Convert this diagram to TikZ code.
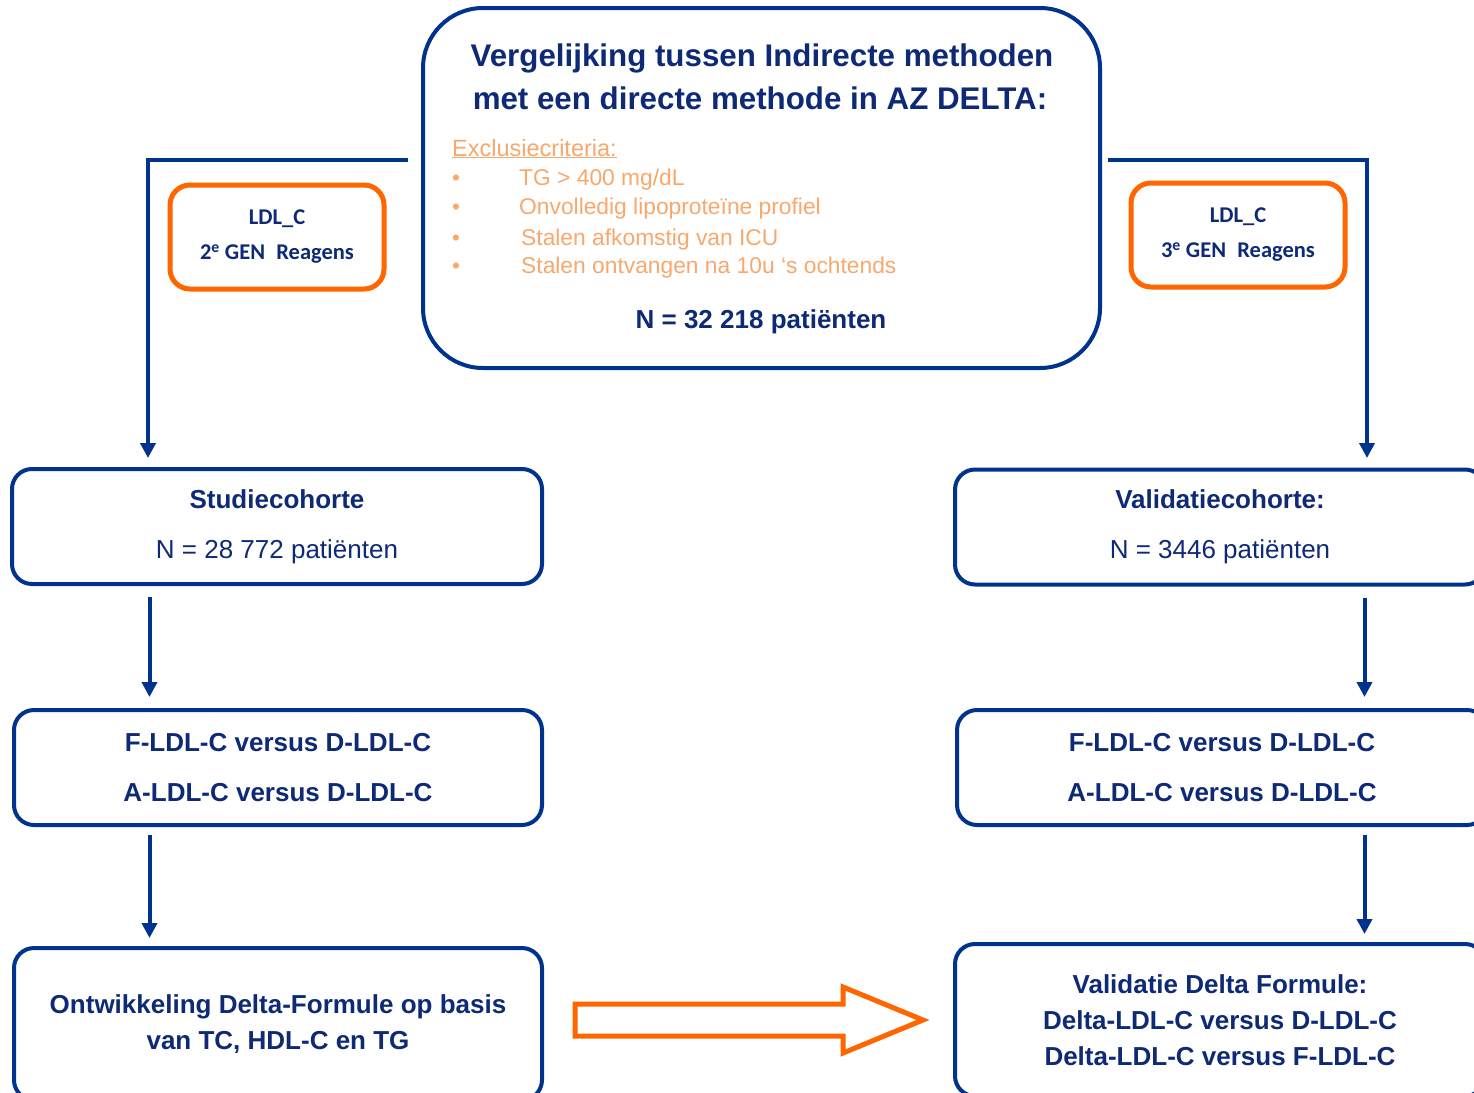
\documentclass[tikz,border=0pt]{standalone}
\usepackage{fontspec}
\setmainfont{Liberation Sans}
\newfontfamily\calfont{Carlito}
\usetikzlibrary{arrows.meta}
\definecolor{navy}{RGB}{0,51,141}
\definecolor{navytext}{RGB}{14,42,118}
\definecolor{orng}{RGB}{255,102,0}
\definecolor{lightorng}{RGB}{248,168,108}

\begin{document}
\begin{tikzpicture}[x=1pt,y=-1pt,
  bluebox/.style={draw=navy, line width=4pt, rounded corners=20pt,
    minimum width=530pt, minimum height=115pt, align=center,
    text=navytext, inner sep=0pt},
  orangebox/.style={draw=orng, line width=5pt, rounded corners=20pt,
    minimum width=214pt, minimum height=104pt, align=center,
    text=navytext, font=\calfont\bfseries\fontsize{22.5}{35}\selectfont},
  flow/.style={draw=navy, line width=4pt,
    -{Triangle[length=15pt,width=15pt]}},
  crit/.style={anchor=base west, text=lightorng,
    font=\fontsize{22.8}{27}\selectfont, inner sep=0pt},
  dot/.style={anchor=base, text=lightorng,
    font=\fontsize{22.5}{27}\selectfont, inner sep=0pt},
]
\clip (0,0) rectangle (1474,1092);
\fill[white] (0,0) rectangle (1474,1092);

% header box with study description
\node[draw=navy, line width=4pt, rounded corners=60pt,
      minimum width=677pt, minimum height=360pt] (top) at (761.5,188) {};
\node[anchor=base, text=navytext, inner sep=0pt,
      font=\bfseries\fontsize{31.3}{36}\selectfont] (title1) at (762,66)
      {Vergelijking tussen Indirecte methoden};
\node[anchor=base, text=navytext, inner sep=0pt,
      font=\bfseries\fontsize{31.3}{36}\selectfont] (title2) at (760,109)
      {met een directe methode in AZ DELTA:};
\node[crit, font=\fontsize{23.5}{27}\selectfont] (excl) at (452,156)
      {\underline{Exclusiecriteria:}};
\node[dot] (b1) at (456,185) {•};
\node[dot] (b2) at (456,214) {•};
\node[dot] (b3) at (456,245) {•};
\node[dot] (b4) at (456,273) {•};
\node[crit] (c1) at (519,185) {TG > 400 mg/dL};
\node[crit] (c2) at (519,214) {Onvolledig lipoproteïne profiel};
\node[crit] (c3) at (521,245) {Stalen afkomstig van ICU};
\node[crit] (c4) at (521,273) {Stalen ontvangen na 10u ‘s ochtends};
\node[anchor=base, text=navytext, inner sep=0pt,
      font=\bfseries\fontsize{26}{30}\selectfont] (ntot) at (761,328)
      {N = 32 218 patiënten};

% reagent generations
\node[orangebox] (gen2) at (277,237)
      {LDL\_C\\2\textsuperscript{e} GEN\hspace{0.5em}Reagens};
\node[orangebox] (gen3) at (1238,235)
      {LDL\_C\\3\textsuperscript{e} GEN\hspace{0.5em}Reagens};

% cohorts
\node[bluebox, font=\fontsize{26}{50}\selectfont] (studie) at (277,526.5)
      {\textbf{Studiecohorte}\\N = 28 772 patiënten};
\node[bluebox, font=\fontsize{26}{50}\selectfont] (valid) at (1220,527)
      {\textbf{Validatiecohorte:}\\N = 3446 patiënten};

% comparisons
\node[bluebox, minimum width=528pt, font=\bfseries\fontsize{26}{50}\selectfont]
      (fl) at (278,767.5)
      {F-LDL-C versus D-LDL-C\\A-LDL-C versus D-LDL-C};
\node[bluebox, font=\bfseries\fontsize{26}{50}\selectfont]
      (fr) at (1222,767.5)
      {F-LDL-C versus D-LDL-C\\A-LDL-C versus D-LDL-C};

% delta formula
\node[bluebox, minimum width=528pt, minimum height=152pt,
      font=\bfseries\fontsize{26}{36}\selectfont] (dl) at (278,1024)
      {Ontwikkeling Delta-Formule op basis\\van TC, HDL-C en TG};
\node[bluebox, minimum height=152pt,
      font=\bfseries\fontsize{26}{36}\selectfont] (dr) at (1220,1020)
      {Validatie Delta Formule:\\Delta-LDL-C versus D-LDL-C\\Delta-LDL-C versus F-LDL-C};

% connectors
\coordinate (lstart) at (408,160);
\coordinate (ltip) at (148,458);
\coordinate (rstart) at (1108,160);
\coordinate (rtip) at (1367,458);
\coordinate (lx) at (149.5,0);
\coordinate (rx) at (1364.5,0);
\draw[flow] (lstart) -| (ltip);
\draw[flow] (rstart) -| (rtip);
\draw[flow] ([yshift=-11pt]studie.south -| lx) -- ([yshift=11pt]fl.north -| lx);
\draw[flow] ([yshift=-11pt]valid.south -| rx) -- ([yshift=11pt]fr.north -| rx);
\draw[flow] ([yshift=-8pt]fl.south -| lx) -- ([yshift=8pt]dl.north -| lx);
\draw[flow] ([yshift=-8pt]fr.south -| rx) -- ([yshift=8pt]dr.north -| rx);

% hollow block arrow from development to validation
\draw[orng, line width=5pt, miter limit=10]
  (575,1004) -- (843,1004) -- (843,987) -- (923,1020) -- (843,1053)
  -- (843,1036) -- (575,1036) -- cycle;
\end{tikzpicture}
\end{document}
